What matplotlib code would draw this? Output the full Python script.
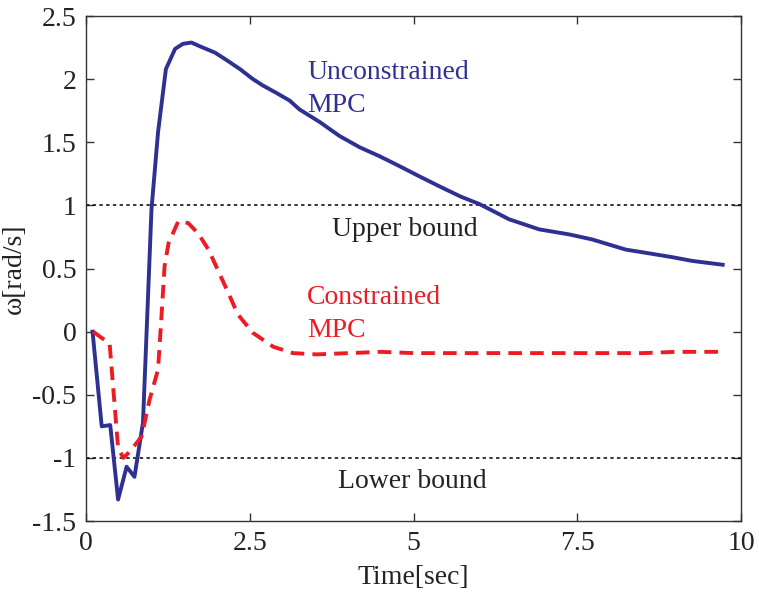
import matplotlib.pyplot as plt

plt.rcParams["font.family"] = ["Liberation Serif", "DejaVu Serif"]

# Unconstrained MPC (blue, solid)
t_unc = [0.10, 0.24, 0.37, 0.49, 0.62, 0.74, 0.87, 1.00, 1.10, 1.22, 1.36, 1.48, 1.61,
         1.74, 1.97, 2.15, 2.35, 2.55, 2.70, 2.91, 3.11, 3.26, 3.57, 3.87, 4.18, 4.48,
         4.79, 5.09, 5.40, 5.72, 6.01, 6.46, 6.92, 7.38, 7.73, 8.24, 8.60, 8.95, 9.26, 9.72]
w_unc = [0.0, -0.75, -0.74, -1.33, -1.07, -1.15, -0.72, 0.97, 1.58, 2.08, 2.24, 2.28, 2.29,
         2.26, 2.21, 2.15, 2.08, 2.00, 1.95, 1.89, 1.83, 1.76, 1.66, 1.55, 1.46, 1.39,
         1.31, 1.23, 1.15, 1.07, 1.01, 0.89, 0.81, 0.77, 0.73, 0.65, 0.62, 0.59, 0.56, 0.53]

# Constrained MPC (red, dashed)
t_con = [0.11, 0.24, 0.36, 0.49, 0.57, 0.67, 0.85, 0.97, 1.10, 1.15, 1.20, 1.26, 1.41,
         1.56, 1.71, 1.87, 2.02, 2.17, 2.32, 2.55, 2.86, 3.16, 3.52, 4.02, 4.5, 5.0,
         5.5, 6.06, 6.5, 7.0, 7.5, 8.0, 8.5, 9.0, 9.72]
w_con = [0.0, -0.05, -0.09, -0.92, -1.0, -0.95, -0.83, -0.54, -0.30, 0.10, 0.52, 0.70, 0.875,
         0.86, 0.78, 0.65, 0.48, 0.31, 0.135, -0.01, -0.12, -0.17, -0.18, -0.17, -0.16, -0.17,
         -0.17, -0.17, -0.17, -0.17, -0.17, -0.17, -0.17, -0.16, -0.16]

upper_bound = 1.0
lower_bound = -1.0

blue = "#2E3192"
red = "#ED1C24"

fig = plt.figure(figsize=(7.59, 5.92), dpi=100)
ax = fig.add_axes([0.1133, 0.1199, 0.8630, 0.8530])

ax.axhline(upper_bound, color="black", linestyle=(0, (2.2, 2.2)), linewidth=1.1)
ax.axhline(lower_bound, color="black", linestyle=(0, (2.2, 2.2)), linewidth=1.1)
ax.plot(t_unc, w_unc, color=blue, linewidth=2.8, solid_joinstyle="round")
ax.plot(t_con, w_con, color=red, linewidth=2.8, linestyle=(0, (3.5, 2.1)))

ax.text(3.38, 2.15, "Unconstrained\nMPC", color=blue, fontsize=20, va="top", ha="left",
        linespacing=1.4)
ax.text(3.37, 0.37, "Constrained\nMPC", color=red, fontsize=20, va="top", ha="left",
        linespacing=1.4)
ax.text(4.87, 0.91, "Upper bound", color="#222222", fontsize=20, va="top", ha="center")
ax.text(4.98, -1.09, "Lower bound", color="#222222", fontsize=20, va="top", ha="center")

ax.set_xlim(0, 10)
ax.set_ylim(-1.5, 2.5)
ax.set_xticks([0, 2.5, 5, 7.5, 10])
ax.set_xticklabels(["0", "2.5", "5", "7.5", "10"])
ax.set_yticks([-1.5, -1, -0.5, 0, 0.5, 1, 1.5, 2, 2.5])
ax.set_yticklabels(["-1.5", "-1", "-0.5", "0", "0.5", "1", "1.5", "2", "2.5"])
ax.tick_params(direction="in", top=True, right=True, length=6, width=1,
               labelsize=20, colors="#333333", labelcolor="#222222", pad=7)
for s in ax.spines.values():
    s.set_color("#333333")
    s.set_linewidth(1.0)

ax.set_xlabel("Time[sec]", fontsize=20, color="#222222", labelpad=7)
ax.set_ylabel("ω[rad/s]", fontsize=20, color="#222222", labelpad=4)

fig.savefig("out.png", dpi=100)
